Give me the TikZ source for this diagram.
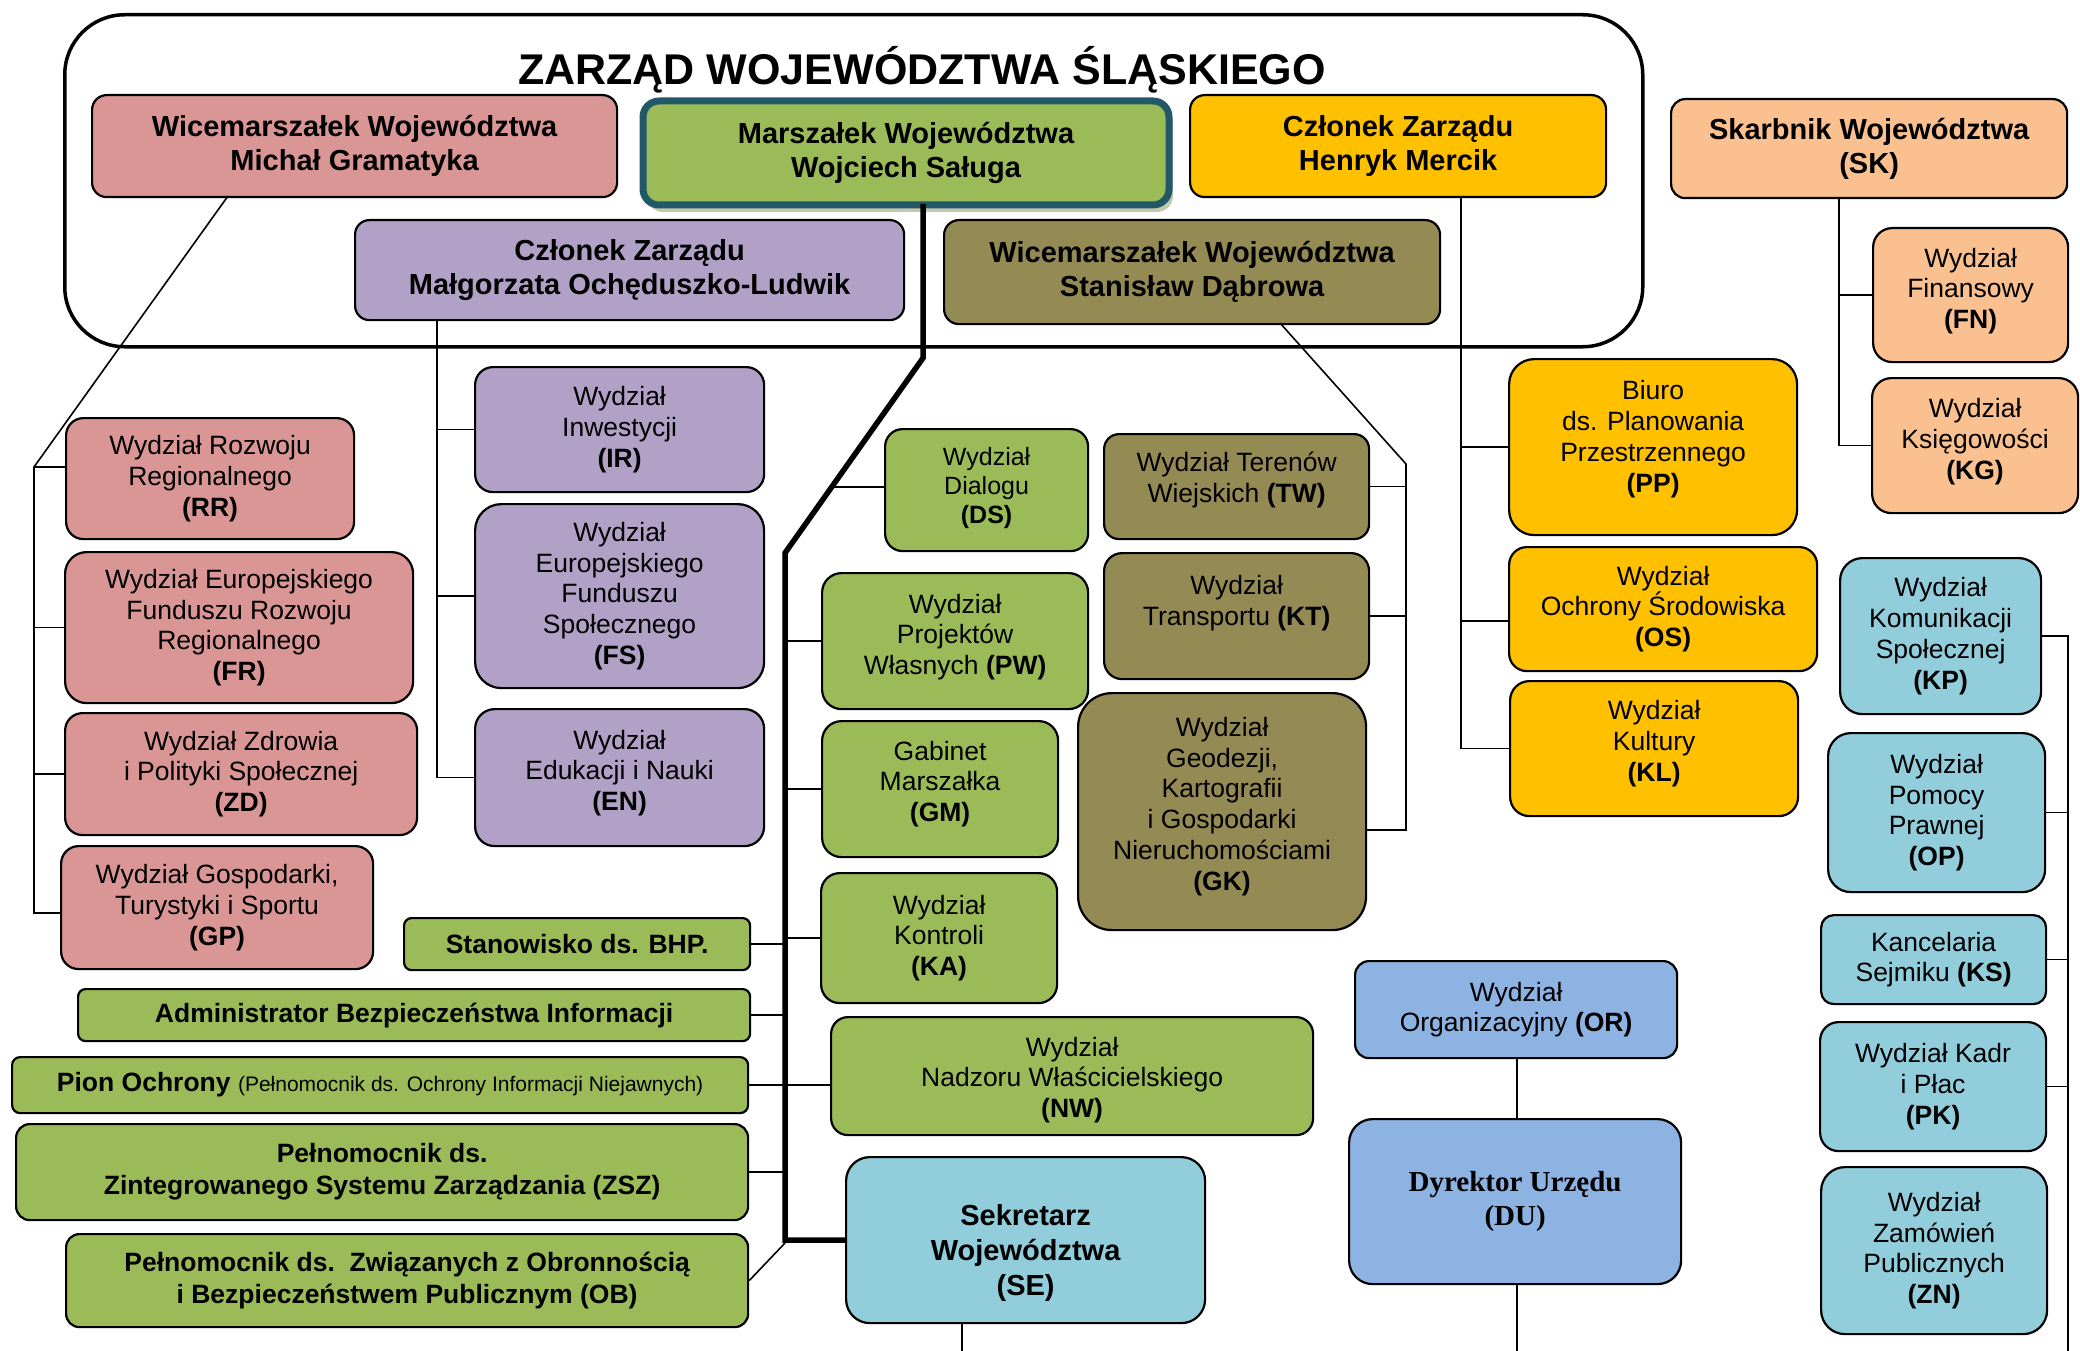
\documentclass[tikz,border=0pt]{standalone}
\usepackage{fontspec}
\setmainfont{Liberation Sans}
\newfontfamily\tnr{Liberation Serif}
\usetikzlibrary{shadows}
\definecolor{cpink}{HTML}{D99694}
\definecolor{cgreen}{HTML}{9BBB59}
\definecolor{cyel}{HTML}{FFC000}
\definecolor{cpurp}{HTML}{B2A1C7}
\definecolor{colive}{HTML}{948A54}
\definecolor{cpeach}{HTML}{FAC090}
\definecolor{cltblue}{HTML}{92CDDC}
\definecolor{cblue}{HTML}{8DB3E2}
\definecolor{cteal}{HTML}{215968}
\definecolor{cshad}{HTML}{C2C9AC}
\newcommand\fBoard{\fontsize{29}{34}\selectfont\bfseries}
\newcommand\fReg{\fontsize{26.5}{30.8}\selectfont}
\newcommand\fSm{\fontsize{25}{29}\selectfont}
\newcommand\fBold{\fontsize{26.5}{32}\selectfont\bfseries}
\newcommand\fSE{\fontsize{29}{35}\selectfont\bfseries}
\newcommand\fDU{\tnr\fontsize{29}{34}\selectfont\bfseries}
\newcommand\fTitle{\fontsize{43}{48}\selectfont\bfseries}
% lift the text block of a node: adds an empty last line
\newcommand\up[1]{\\[#1pt]\mbox{}}
\newcommand\Bx[7]{%
  \pgfmathsetmacro\bw{#5-#3}%
  \pgfmathsetmacro\bh{#6-#4}%
  \pgfmathsetmacro\br{min(\bw,\bh)/7}%
  \node[bx,rounded corners=\br pt,#2,minimum width=\bw pt,minimum height=\bh pt] (#1) at (#3,#4) {#7};}
\tikzset{
  bx/.style={draw=black, line width=2.2pt, anchor=north west, inner sep=0pt, align=center, font=\fReg},
  brd/.style={font=\fBoard},
  gb/.style={fill=cgreen, font=\fBold},
  ln/.style={draw=black, line width=1.6pt},
  trunk/.style={draw=black, line width=5.5pt},
}
\begin{document}
\begin{tikzpicture}[x=1pt,y=-1pt]
\useasboundingbox (0,0) rectangle (2080,1351);
% board frame
\node[draw=black, line width=3.5pt, rounded corners=60pt, anchor=north west, minimum width=1578pt, minimum height=332pt, inner sep=0pt] (board) at (63,13) {};
\node[font=\fTitle, anchor=base, inner sep=0pt] (title) at (922,85) {ZARZĄD WOJEWÓDZTWA ŚLĄSKIEGO};
% board members
\Bx{w1}{brd,fill=cpink}{91}{94}{616}{196}{Wicemarszałek Województwa\\Michał Gramatyka}
\node[draw=cteal, line width=7pt, fill=cgreen, rounded corners=16pt, anchor=north west, minimum width=526pt, minimum height=104pt, inner sep=0pt, align=center, font=\fBoard, drop shadow={shadow xshift=4pt, shadow yshift=-7pt, fill=cshad, opacity=1}] (marsz) at (639.5,97.5) {Marszałek Województwa\\Wojciech Saługa};
\Bx{merc}{brd,fill=cyel}{1189}{94}{1605}{196}{Członek Zarządu\\Henryk Mercik}
\Bx{mal}{brd,fill=cpurp}{354}{219}{903}{319}{Członek Zarządu\\Małgorzata Ochęduszko-Ludwik}
\Bx{stan}{brd,fill=colive}{943}{219}{1439}{323}{Wicemarszałek Województwa\\Stanisław Dąbrowa}
\Bx{sk}{brd,fill=cpeach}{1670}{98}{2066}{197}{Skarbnik Województwa\\(SK)}
% peach
\Bx{fn}{fill=cpeach}{1872}{227}{2067}{361}{Wydział\\Finansowy\\\textbf{(FN)}\up{-17}}
\Bx{kg}{fill=cpeach}{1871}{377}{2077}{512}{Wydział\\Księgowości\\\textbf{(KG)}\up{-17}}
% yellow
\Bx{pp}{fill=cyel}{1508}{358}{1796}{534}{Biuro\\ds. Planowania\\Przestrzennego\\\textbf{(PP)}\up{-9}}
\Bx{os}{fill=cyel}{1508}{546}{1816}{670}{Wydział\\Ochrony Środowiska\\\textbf{(OS)}}
\Bx{kl}{fill=cyel}{1509}{680}{1797}{815}{Wydział\\Kultury\\\textbf{(KL)}\up{-15}}
% light blue right
\Bx{kp}{fill=cltblue}{1839}{557}{2040}{713}{Wydział\\Komunikacji\\Społecznej\\\textbf{(KP)}}
\Bx{op}{fill=cltblue}{1827}{732}{2044}{891}{Wydział\\Pomocy\\Prawnej\\\textbf{(OP)}}
\Bx{ks}{fill=cltblue}{1820}{914}{2045}{1003}{Kancelaria\\Sejmiku \textbf{(KS)}}
\Bx{pk}{fill=cltblue}{1819}{1021}{2045}{1150}{Wydział Kadr\\i Płac\\\textbf{(PK)}}
\Bx{zn}{fill=cltblue}{1820}{1166}{2046}{1333}{Wydział\\Zamówień\\Publicznych\\\textbf{(ZN)}}
% blue
\Bx{or}{fill=cblue}{1354}{960}{1676}{1057}{Wydział\\Organizacyjny \textbf{(OR)}}
\Bx{du}{fill=cblue,font=\fDU}{1348}{1118}{1680}{1283}{Dyrektor Urzędu\\(DU)}
\Bx{se}{fill=cltblue,font=\fSE}{845}{1156}{1204}{1322}{\rule{0pt}{47pt}Sekretarz\\Województwa\\(SE)}
% green
\Bx{nw}{fill=cgreen}{830}{1016}{1312}{1134}{\rule{0pt}{27pt}Wydział\\Nadzoru Właścicielskiego\\\textbf{(NW)}}
\Bx{ds}{fill=cgreen,font=\fSm}{884}{428}{1087}{550}{Wydział\\Dialogu\\\textbf{(DS)}\up{-19}}
\Bx{pw}{fill=cgreen}{821}{572}{1087}{708}{Wydział\\Projektów\\Własnych \textbf{(PW)}\up{-17}}
\Bx{gm}{fill=cgreen}{821}{720}{1057}{856}{Gabinet\\Marszałka\\\textbf{(GM)}\up{-15}}
\Bx{ka}{fill=cgreen}{820}{872}{1056}{1002}{Wydział\\Kontroli\\\textbf{(KA)}}
% olive
\Bx{tw}{fill=colive}{1103}{433}{1368}{538}{Wydział Terenów\\Wiejskich \textbf{(TW)}\up{-12}}
\Bx{kt}{fill=colive}{1103}{552}{1368}{678}{Wydział\\Transportu \textbf{(KT)}\\\mbox{}}
\Bx{gk}{fill=colive}{1077}{692}{1365}{929}{Wydział\\Geodezji,\\Kartografii\\i Gospodarki\\Nieruchomościami\\\textbf{(GK)}\up{-15}}
% purple
\Bx{ir}{fill=cpurp}{474}{366}{763}{491}{Wydział\\Inwestycji\\\textbf{(IR)}}
\Bx{fs}{fill=cpurp}{474}{503}{763}{687}{Wydział\\Europejskiego\\Funduszu\\Społecznego\\\textbf{(FS)}}
\Bx{en}{fill=cpurp}{474}{708}{763}{845}{Wydział\\Edukacji i Nauki\\\textbf{(EN)}\up{-16}}
% pink
\Bx{rr}{fill=cpink}{65}{417}{353}{538}{Wydział Rozwoju\\Regionalnego\\\textbf{(RR)}}
\Bx{fr}{fill=cpink}{64}{551}{412}{702}{Wydział Europejskiego\\Funduszu Rozwoju\\Regionalnego\\\textbf{(FR)}}
\Bx{zd}{fill=cpink}{64}{712}{416}{834}{Wydział Zdrowia\\i Polityki Społecznej\\\textbf{(ZD)}}
\Bx{gp}{fill=cpink}{60}{845}{372}{968}{Wydział Gospodarki,\\Turystyki i Sportu\\\textbf{(GP)}}
% green bold
\Bx{bhp}{gb}{403}{917}{749}{969}{Stanowisko ds. BHP.}
\Bx{abi}{gb}{77}{988}{749}{1040}{Administrator Bezpieczeństwa Informacji}
\Bx{pion}{gb}{11}{1056}{747}{1112}{Pion Ochrony {\mdseries\fontsize{21}{25}\selectfont(Pełnomocnik ds. Ochrony Informacji Niejawnych)}}
\Bx{zsz}{gb}{15}{1123}{747}{1219}{Pełnomocnik ds.\\Zintegrowanego Systemu Zarządzania (ZSZ)}
\Bx{ob}{gb}{65}{1233}{747}{1326}{Pełnomocnik ds.\ \ Związanych z Obronnością\\i Bezpieczeństwem Publicznym (OB)}
% ---- connectors
\coordinate (t0) at (923,204);
\coordinate (t1) at (923,358);
\coordinate (t2) at (785,553);
\coordinate (t3) at (785,1240);
\coordinate (t4) at (785,1243);
\coordinate (dsb) at (832,487);
\draw[trunk] (t0) -- (t1) -- (t2) -- (t3) -- (t3 -| se.west);
\draw[ln] (dsb) -- (dsb -| ds.west);
\draw[ln] (pw.west -| t3) -- (pw.west);
\draw[ln] (gm.west -| t3) -- (gm.west);
\draw[ln] (ka.west -| t3) -- (ka.west);
\draw[ln] (bhp.east) -- (bhp.east -| t3);
\draw[ln] (abi.east) -- (abi.east -| t3);
\draw[ln] (pion.east) -- (pion.east -| nw.west);
\draw[ln] (zsz.east) -- (zsz.east -| t3);
\draw[ln] (t4) -- (ob.east);
% pink group
\coordinate (wa) at (228,196);
\coordinate (pbt) at (34,467);
\coordinate (pbb) at (34,913);
\draw[ln] (wa) -- (pbt) -- (pbb) -- (pbb -| gp.west);
\draw[ln] (pbt) -- (pbt -| rr.west);
\draw[ln] (fr.west -| pbt) -- (fr.west);
\draw[ln] (zd.west -| pbt) -- (zd.west);
% purple group
\coordinate (ma) at (437,319);
\draw[ln] (ma) |- (en.west);
\draw[ln] (ir.west -| ma) -- (ir.west);
\draw[ln] (fs.west -| ma) -- (fs.west);
% olive group
\coordinate (sa) at (1280,323);
\coordinate (sb) at (1406,464);
\coordinate (sc) at (1406,830);
\draw[ln] (sa) -- (sb) -- (sc) -- (sc -| gk.east);
\draw[ln] (tw.east) -- (tw.east -| sb);
\draw[ln] (kt.east) -- (kt.east -| sb);
% yellow group
\coordinate (mc) at (1461,196);
\coordinate (mos) at (1461,621);
\draw[ln] (mc) |- (kl.west);
\draw[ln] (pp.west -| mc) -- (pp.west);
\draw[ln] (mos) -- (mos -| os.west);
% skarbnik group
\coordinate (skb) at (1839,197);
\draw[ln] (skb) |- (kg.west);
\draw[ln] (fn.west -| skb) -- (fn.west);
% right blue group
\coordinate (rbb) at (2068,1351);
\draw[ln] (kp.east) -| (rbb);
\draw[ln] (op.east) -- (op.east -| rbb);
\draw[ln] (ks.east) -- (ks.east -| rbb);
\draw[ln] (pk.east) -- (pk.east -| rbb);
% director
\coordinate (dub) at (1517,1351);
\draw[ln] (or.south -| dub) -- (du.north -| dub);
\draw[ln] (du.south -| dub) -- (dub);
\coordinate (sea) at (962,1322);
\coordinate (seb) at (962,1351);
\draw[ln] (sea) -- (seb);
\end{tikzpicture}
\end{document}
